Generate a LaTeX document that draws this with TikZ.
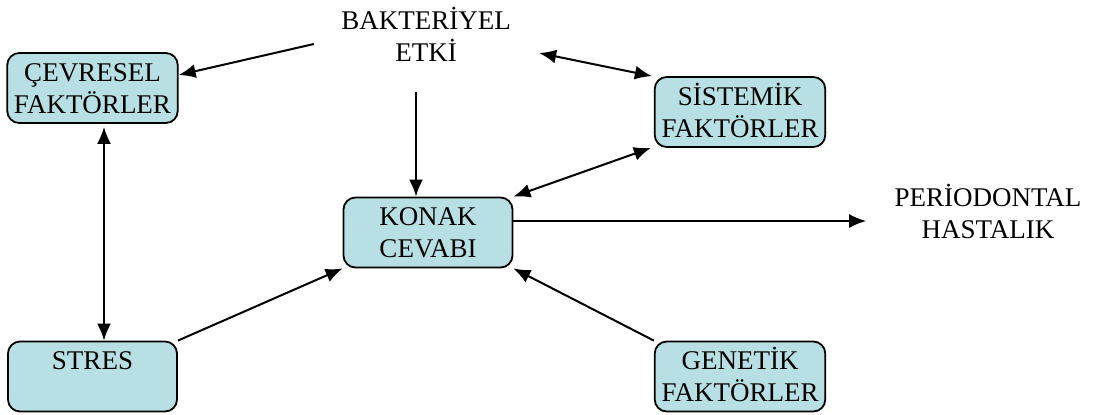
\documentclass[tikz,border=0pt]{standalone}
\usepackage{fontspec}
\setmainfont{Liberation Serif}
\usepackage{xcolor}
\usepackage{tikz}
\usetikzlibrary{arrows.meta}

\definecolor{kutu}{RGB}{184,224,228}

\begin{document}
\begin{tikzpicture}[x=0.5pt, y=-0.5pt,
        font=\fontsize{13.5}{16}\selectfont,
        kutubox/.style={rectangle, rounded corners=6pt, draw, line width=0.9pt,
            fill=kutu, inner sep=0pt, minimum width=84.5pt, minimum height=35pt},
        yazi/.style={inner sep=0pt},
        arr/.style={-{Latex[length=8.5pt,width=7pt]}, line width=1pt},
        darr/.style={{Latex[length=8.5pt,width=7pt]}-{Latex[length=8.5pt,width=7pt]}, line width=1pt}]
    \useasboundingbox (0,0) rectangle (1096,414);

    \node (bakteri) at (426, 39) [yazi] {
        \begin{tabular}{c}
            BAKTERİYEL
            \\
            ETKİ
        \end{tabular}
    };

    \node (cevre) at (92.5, 88) [kutubox] {\raisebox{-1.5pt}[\height][\depth]{
        \begin{tabular}{@{}c@{}}
            ÇEVRESEL
            \\
            FAKTÖRLER
        \end{tabular}
    }};

    \node (sistem) at (740, 112) [kutubox] {\raisebox{-1.5pt}[\height][\depth]{
        \begin{tabular}{@{}c@{}}
            SİSTEMİK
            \\
            FAKTÖRLER
        \end{tabular}
    }};

    \node (konak) at (428, 232.5) [kutubox] {\raisebox{-1.5pt}[\height][\depth]{
        \begin{tabular}{@{}c@{}}
            KONAK
            \\
            CEVABI
        \end{tabular}
    }};

    \node (perio) at (988, 216) [yazi] {
        \begin{tabular}{c}
            PERİODONTAL
            \\
            HASTALIK
        \end{tabular}
    };

    \node (stres) at (92.5, 376.5) [kutubox] {\raisebox{-1.5pt}[\height][\depth]{
        \begin{tabular}{@{}c@{}}
            STRES
            \\
            ~
        \end{tabular}
    }};

    \node (genetik) at (740, 376.5) [kutubox] {\raisebox{-1.5pt}[\height][\depth]{
        \begin{tabular}{@{}c@{}}
            GENETİK
            \\
            FAKTÖRLER
        \end{tabular}
    }};

    \draw[arr] ([xshift=-7.5pt, yshift=-2.5pt]bakteri.west) -- ([yshift=6.5pt]cevre.east);
    \draw[darr] ([xshift=8pt, yshift=-7pt]bakteri.east) -- ([xshift=-1pt]sistem.north west);
    \draw[arr] ([xshift=-5pt, yshift=-10.5pt]bakteri.south) -- ([xshift=-6pt]konak.north);
    \draw[darr] (konak.north east) -- ([xshift=-1.5pt]sistem.south west);
    \draw[arr] ([yshift=5.75pt]konak.east) -- ([xshift=-8pt, yshift=-2.5pt]perio.west);
    \draw[darr] ([xshift=5.75pt, yshift=-1.5pt]cevre.south) -- ([xshift=5.75pt]stres.north);
    \draw[arr] (stres.north east) -- (konak.south west);
    \draw[arr] (genetik.north west) -- (konak.south east);
\end{tikzpicture}
\end{document}
